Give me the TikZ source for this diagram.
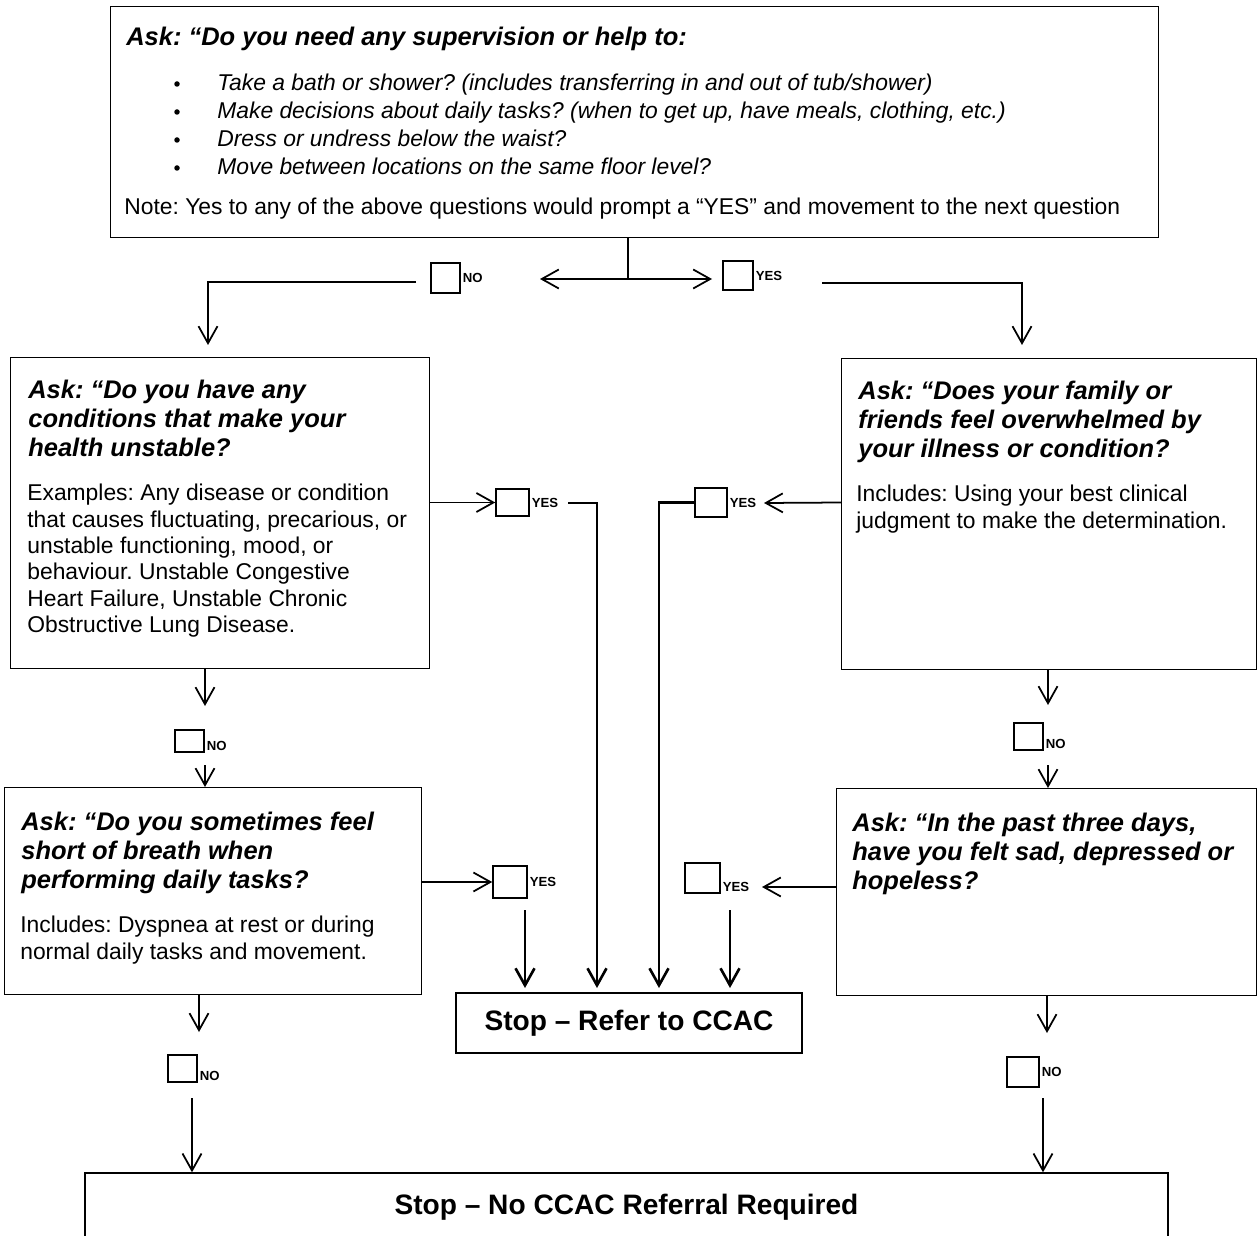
\documentclass[tikz,border=0pt]{standalone}
\usepackage{fontspec}
\setmainfont{Liberation Sans}
\usetikzlibrary{arrows.meta,positioning}
\frenchspacing

\tikzset{
  box/.style={draw,line width=0.8pt,inner sep=0pt,anchor=north west},
  askline/.style={anchor=north west,inner sep=0pt,align=left,
    font=\fontsize{14.5}{16.5}\selectfont\bfseries\itshape},
  infoline/.style={anchor=north west,inner sep=0pt,align=left,
    font=\fontsize{13}{15}\selectfont},
  chk/.style 2 args={draw,line width=0.9pt,inner sep=0pt,
    minimum width=#1*0.02cm,minimum height=#2*0.02cm},
  yn/.style={inner sep=1pt,font=\fontsize{7.5}{9}\selectfont\bfseries},
  dotmark/.style={circle,fill,inner sep=0pt,minimum size=0.11cm},
  flow/.style={line width=1pt,-{Straight Barb[length=3.4mm,width=3.8mm]}},
  bold flow/.style={flow,line width=1.5pt},
  stopbox/.style={draw,line width=0.8pt,font=\fontsize{16}{18}\selectfont\bfseries},
}

\begin{document}
\begin{tikzpicture}[x=0.02cm,y=-0.02cm]
    \useasboundingbox (0,0) rectangle (1257,1236);

    % boxes
    \node[box,minimum width=20.96cm,minimum height=4.62cm] (q0) at (110,6) {};
    \node[box,minimum width=8.38cm,minimum height=6.22cm] (q1) at (10,357) {};
    \node[box,minimum width=8.30cm,minimum height=6.22cm] (q2) at (841,358) {};
    \node[box,minimum width=8.34cm,minimum height=4.14cm] (q3) at (4,787) {};
    \node[box,minimum width=8.40cm,minimum height=4.14cm] (q4) at (836,788) {};
    \node[stopbox,minimum width=6.92cm,minimum height=1.20cm] (refer) at (629,1023) {Stop – Refer to CCAC};
    \node[stopbox,minimum width=21.66cm,minimum height=1.36cm] (noref) at (626.5,1207) {Stop – No CCAC Referral Required};

    % texts
    \node[askline] (t0) at (126,27) {Ask: “Do you need any supervision or help to:};
    \foreach \txt [count=\i from 0] in {{Take a bath or shower? (includes transferring in and out of tub/shower)},
        {Make decisions about daily tasks? (when to get up, have meals, clothing, etc.)},
        {Dress or undress below the waist?},
        {Move between locations on the same floor level?}}{
      \node[dotmark] (dot\i) at (177,84+28*\i) {};
      \node[anchor=base west,inner sep=0pt,font=\fontsize{13}{15}\selectfont\itshape] (item\i) at (217,91+28*\i) {\txt};
    }
    \node[anchor=west,inner sep=0pt,font=\fontsize{13}{15}\selectfont] (note) at (124,209)
      {Note: Yes to any of the above questions would prompt a “YES” and movement to the next question};

    \node[askline] (t1) at (28,380) {Ask: “Do you have any\\conditions that make your\\health unstable?};
    \node[infoline] (i1) at (27,484) {Examples: Any disease or condition\\that causes fluctuating, precarious, or\\unstable functioning, mood, or\\behaviour. Unstable Congestive\\Heart Failure, Unstable Chronic\\Obstructive Lung Disease.};
    \node[askline] (t2) at (858,381) {Ask: “Does your family or\\friends feel overwhelmed by\\your illness or condition?};
    \node[infoline] (i2) at (856,485) {Includes: Using your best clinical\\judgment to make the determination.};
    \node[askline] (t3) at (21,812) {Ask: “Do you sometimes feel\\short of breath when\\performing daily tasks?};
    \node[infoline] (i3) at (20,916) {Includes: Dyspnea at rest or during\\normal daily tasks and movement.};
    \node[askline] (t4) at (852,813) {Ask: “In the past three days,\\have you felt sad, depressed or\\hopeless?};

    % check boxes
    \node[chk={29}{30},label={[yn]east:NO}] (n0) at (445.5,278) {};
    \node[chk={30}{29},label={[yn]east:YES}] (y0) at (738,275.5) {};
    \node[chk={33}{27},label={[yn]east:YES}] (y1) at (512.5,502.5) {};
    \node[chk={32}{29},label={[yn]east:YES}] (y2) at (711,502.5) {};
    \node[chk={29}{22},label={[yn,anchor=south west]south east:NO}] (n1) at (189.5,741) {};
    \node[chk={29}{27},label={[yn,anchor=south west]south east:NO}] (n2) at (1028.5,736.5) {};
    \node[chk={34}{32},label={[yn]east:YES}] (y3) at (510,882) {};
    \node[chk={35}{30},label={[yn,anchor=south west]south east:YES}] (y4) at (702.5,878) {};
    \node[chk={29}{27},label={[yn,anchor=south west]south east:NO}] (n3) at (182.5,1068.5) {};
    \node[chk={32}{30},label={[yn]east:NO}] (n4) at (1023,1072) {};

    % free ends
    \coordinate (split) at (628,279);
    \coordinate (noTip) at (540,279);
    \coordinate (yesTip) at (712,279);
    \coordinate (noOut) at (416,282);
    \coordinate (q1In) at (208,345);
    \coordinate (yesOut) at (822,283);
    \coordinate (q2In) at (1022,345);
    \coordinate (y1Out) at (568,503);
    \coordinate (referA) at (597,988);
    \coordinate (y2In) at (764,503);
    \coordinate (referB) at (659,988);
    \coordinate (y3Out) at (525,910);
    \coordinate (referC) at (525,988);
    \coordinate (y4In) at (762,887);
    \coordinate (y4Out) at (730,910);
    \coordinate (referD) at (730,988);
    \coordinate (n1In) at (205,706);
    \coordinate (n1Out) at (205,765);
    \coordinate (n2In) at (1048,705);
    \coordinate (n2Out) at (1048,765);
    \coordinate (n3In) at (199,1032);
    \coordinate (n3Out) at (192,1098);
    \coordinate (n4In) at (1047,1033);
    \coordinate (n4Out) at (1043,1098);

    % connectors
    \draw[line width=1pt] (split |- q0.south) -- (split);
    \draw[flow] (split) -- (noTip);
    \draw[flow] (split) -- (yesTip);
    \draw[flow] (noOut) -| (q1In);
    \draw[flow] (yesOut) -| (q2In);
    \draw[flow] (q1.east |- y1) -- (y1.west);
    \draw[bold flow] (y1Out) -| (referA);
    \draw[flow] (q2.west |- y2) -- (y2In);
    \draw[bold flow] (y2.west) -| (referB);
    \draw[flow] (q3.east |- y3) -- (y3.west);
    \draw[bold flow] (y3Out) -- (referC);
    \draw[flow] (q4.west |- y4In) -- (y4In);
    \draw[bold flow] (y4Out) -- (referD);
    \draw[flow] (q1.south -| n1In) -- (n1In);
    \draw[flow] (n1Out) -- (n1Out |- q3.north);
    \draw[flow] (q2.south -| n2In) -- (n2In);
    \draw[flow] (n2Out) -- (n2Out |- q4.north);
    \draw[flow] (q3.south -| n3In) -- (n3In);
    \draw[flow] (n3Out) -- (n3Out |- noref.north);
    \draw[flow] (q4.south -| n4In) -- (n4In);
    \draw[flow] (n4Out) -- (n4Out |- noref.north);
\end{tikzpicture}
\end{document}
